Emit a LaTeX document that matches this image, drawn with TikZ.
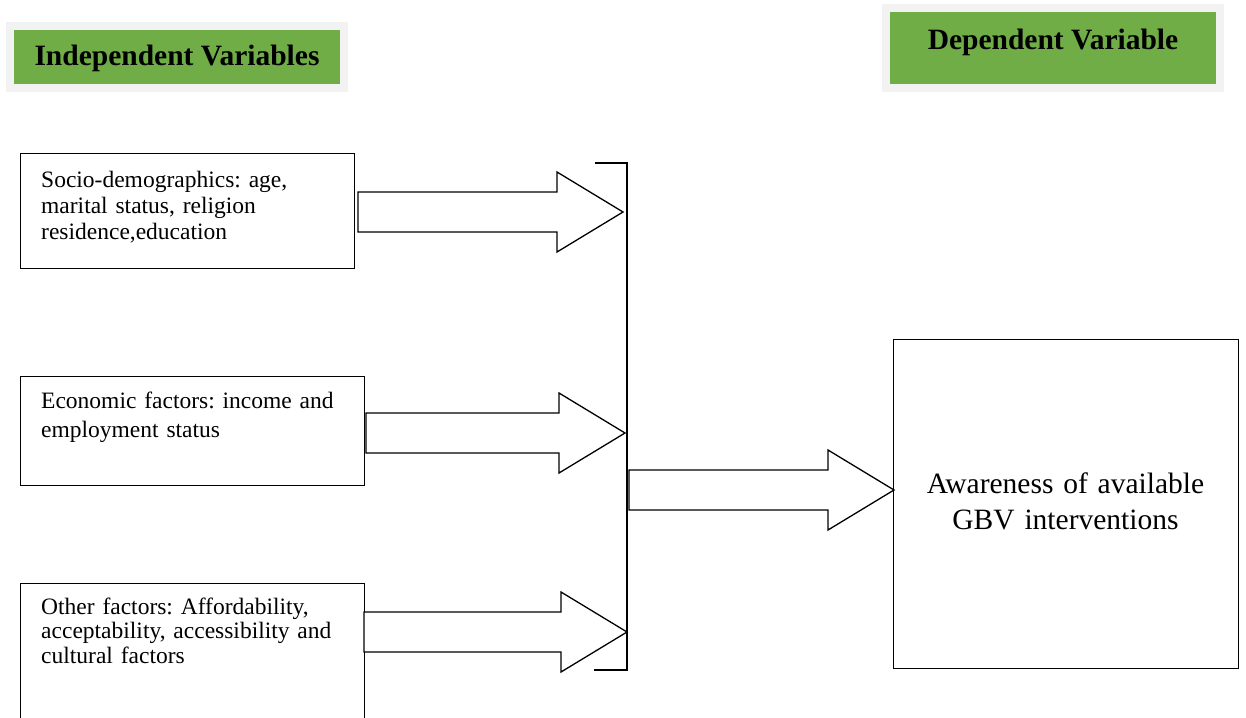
\documentclass[tikz,border=0pt]{standalone}
\usepackage{fontspec}
\setmainfont{Liberation Serif}
\usetikzlibrary{calc}
\frenchspacing
\definecolor{hdrgreen}{HTML}{70AD47}
\definecolor{hdrgray}{HTML}{F2F2F2}
\newcommand{\blockarr}[2]{%
  \draw[arrowshape] ($(#1)+(0,-20)$) -- ($(#2)+(-66,-20)$) -- ($(#2)+(-66,-40)$) -- (#2)
    -- ($(#2)+(-66,40)$) -- ($(#2)+(-66,20)$) -- ($(#1)+(0,20)$) -- cycle;}
\begin{document}
\begin{tikzpicture}[x=1pt,y=-1pt,
  hdrouter/.style={fill=hdrgray, draw=none, anchor=north west, inner sep=0pt},
  hdrinner/.style={fill=hdrgreen, draw=none, anchor=north west, inner sep=0pt},
  hdrtext/.style={font=\fontsize{29.5}{33}\selectfont\bfseries\frenchspacing, inner sep=0pt},
  varbox/.style={draw=black, line width=1.3pt, fill=white, anchor=north west, inner sep=0pt},
  boxtext/.style={anchor=base west, inner sep=0pt, align=left, text width=320pt},
  arrowshape/.style={draw=black, line width=1.3pt, fill=white, line join=miter},
  bracketline/.style={draw=black, line width=1.3pt}
]
\useasboundingbox (0,0) rectangle (1246,717);
\clip (0,0) rectangle (1246,717);

% headers
\node[hdrouter, minimum width=342pt, minimum height=70pt] (h1o) at (6,22) {};
\node[hdrinner, minimum width=326pt, minimum height=54pt] (h1) at (14,29.7) {};
\node[hdrtext, anchor=base] (h1t) at (177,66) {Independent Variables};

\node[hdrouter, minimum width=342pt, minimum height=88pt] (h2o) at (882,4) {};
\node[hdrinner, minimum width=326pt, minimum height=71.6pt] (h2) at (890,11.7) {};
\node[hdrtext, anchor=base] (h2t) at (1053,49) {Dependent Variable};

% independent variable boxes
\node[varbox, minimum width=334pt, minimum height=115pt] (b1) at (20,153) {};
\node[boxtext, font=\fontsize{23.5}{26}\selectfont\frenchspacing] (t1) at (41,187) {Socio-demographics: age,\\marital status, religion\\residence,education};

\node[varbox, minimum width=344pt, minimum height=109pt] (b2) at (20,376) {};
\node[boxtext, font=\fontsize{23.5}{29.5}\selectfont\frenchspacing] (t2) at (41,408) {Economic factors: income and\\employment status};

\node[varbox, minimum width=344pt, minimum height=160pt] (b3) at (20,583) {};
\node[boxtext, font=\fontsize{23.5}{24.5}\selectfont\frenchspacing] (t3) at (41,614) {Other factors: Affordability,\\acceptability, accessibility and\\cultural factors};

% dependent variable box
\node[varbox, minimum width=345pt, minimum height=329pt] (rb) at (893,339) {};
\node[inner sep=0pt, align=center, text width=330pt, anchor=base, font=\fontsize{29.5}{36}\selectfont\frenchspacing] (rt) at (1065.5,493) {Awareness of available\\GBV interventions};

% bracket
\coordinate (brTL) at (595,163);
\coordinate (brT) at (627,163);
\coordinate (brB) at (627,670);
\coordinate (brBL) at (594,670);
\draw[bracketline] (brTL) -- (brT) -- (brB) -- (brBL);

% block arrows
\coordinate (a1t) at (358,212); \coordinate (a1p) at (623,212);
\coordinate (a2t) at (366,433); \coordinate (a2p) at (625,433);
\coordinate (a3t) at (364,632); \coordinate (a3p) at (627,632);
\coordinate (a4t) at (629,490); \coordinate (a4p) at (894,490);
\blockarr{a1t}{a1p}
\blockarr{a2t}{a2p}
\blockarr{a3t}{a3p}
\blockarr{a4t}{a4p}
\end{tikzpicture}
\end{document}
